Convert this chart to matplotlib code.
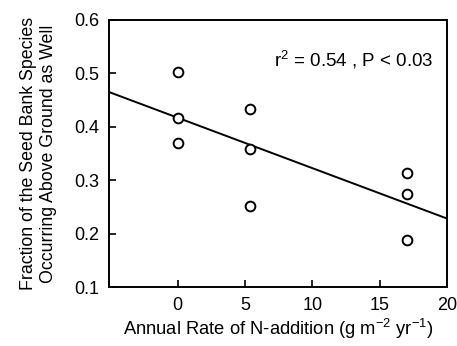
import matplotlib.pyplot as plt

# data
n_rate = [0, 0, 0, 5.4, 5.4, 5.4, 17, 17, 17]
fraction = [0.502, 0.416, 0.369, 0.433, 0.359, 0.252, 0.314, 0.275, 0.188]

# regression line
fit_slope = -0.00944
fit_intercept = 0.417
fit_x = [-5.1, 20]

xticks = [0, 5, 10, 15, 20]
yticks = [0.1, 0.2, 0.3, 0.4, 0.5, 0.6]


def make_plot():
    plt.rcParams['font.family'] = ['Liberation Sans', 'DejaVu Sans']
    plt.rcParams['mathtext.fontset'] = 'custom'
    plt.rcParams['mathtext.rm'] = 'Liberation Sans'
    fig = plt.figure(figsize=(4.57, 3.46), dpi=100)
    ax = fig.add_axes([109 / 457, 1 - 287 / 346, 338 / 457, 267 / 346])

    fit_y = [fit_intercept + fit_slope * x for x in fit_x]
    ax.plot(fit_x, fit_y, color='black', linewidth=1.4)
    ax.plot(n_rate, fraction, linestyle='none', marker='o', markersize=7,
            markerfacecolor='white', markeredgecolor='black', markeredgewidth=1.4)

    ax.set_xlim(-5.1, 20)
    ax.set_ylim(0.1, 0.6)
    ax.set_xticks(xticks)
    ax.set_yticks(yticks)
    ax.set_yticklabels(["%.1f" % v for v in yticks])
    ax.tick_params(direction='in', length=5, width=1.2, labelsize=13, pad=7)
    for s in ax.spines.values():
        s.set_linewidth(1.4)

    ax.set_xlabel("Annual Rate of N-addition (g m$^{\\mathrm{-2}}$ yr$^{\\mathrm{-1}}$)",
                  fontsize=13.2, labelpad=2)
    ax.set_ylabel("Fraction of the Seed Bank Species\nOccurring Above Ground as Well",
                  fontsize=12.8, labelpad=12, linespacing=1.3)
    ax.text(0.96, 0.85, "r$^{2}$ = 0.54 , P < 0.03", transform=ax.transAxes,
            ha='right', va='center', fontsize=13.5)

    fig.savefig("out.png", dpi=100)


if __name__ == "__main__":
    make_plot()
